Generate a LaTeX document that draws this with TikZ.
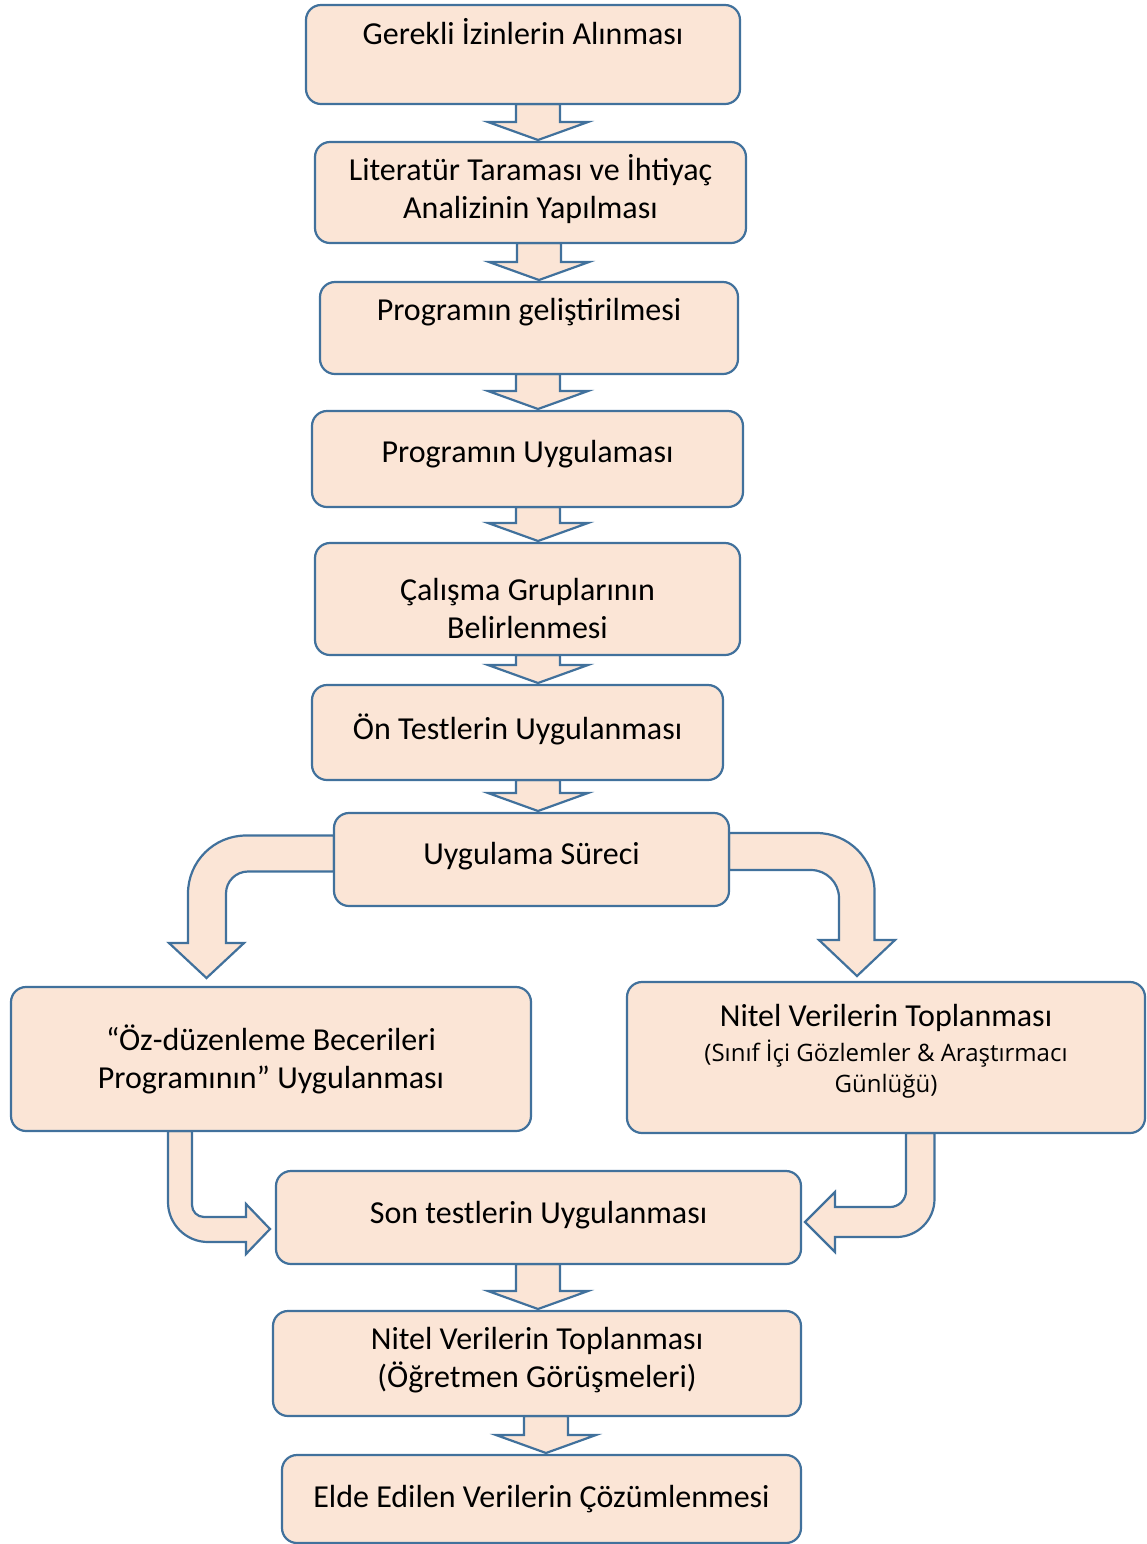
\documentclass[tikz,border=0pt]{standalone}
\usepackage{fontspec}
\setmainfont{Carlito}
\newfontfamily\notefont{Open Sans}
\newcommand\notesize{\notefont\fontsize{12}{15.5}\selectfont}
\newcommand\lowroom[1]{\rule[-#1]{0pt}{#1}}
\usetikzlibrary{calc,backgrounds}
\definecolor{boxfill}{HTML}{FBE5D6}
\definecolor{boxline}{HTML}{41719C}
\tikzset{
  box/.style={draw=boxline, fill=boxfill, line width=1.1pt, rounded corners=7.5pt, align=center,
    inner sep=2pt, outer sep=0pt, font=\fontsize{16}{19}\selectfont},
  blockarrow/.style={draw=boxline, fill=boxfill, line width=1.1pt, line join=miter}
}
\begin{document}
\begin{tikzpicture}[x=0.5pt,y=0.5pt]
    \useasboundingbox (0,0) rectangle (1147,-1544);

    \node[box, minimum width=217pt, minimum height=49.5pt] (izin) at (523,-54.5) {Gerekli İzinlerin Alınması\\[-2pt]\strut};
    \node[box, minimum width=215.5pt, minimum height=50.5pt] (literatur) at (530.5,-192.5) {Literatür Taraması ve İhtiyaç\\Analizinin Yapılması\lowroom{6.2pt}};
    \node[box, minimum width=209pt, minimum height=46pt] (gelistirme) at (529,-328) {Programın geliştirilmesi\\[-6pt]\strut};
    \node[box, minimum width=215.5pt, minimum height=48pt] (uygulama) at (527.5,-459) {Programın Uygulaması\lowroom{7.2pt}};
    \node[box, minimum width=212.5pt, minimum height=56pt] (gruplar) at (527.5,-599) {\rule{0pt}{20.5pt}Çalışma Gruplarının\\Belirlenmesi};
    \node[box, minimum width=205.5pt, minimum height=47.5pt] (ontest) at (517.5,-732.5) {Ön Testlerin Uygulanması\lowroom{6.2pt}};
    \node[box, minimum width=197.5pt, minimum height=46.5pt] (surec) at (531.5,-859.5) {Uygulama Süreci\lowroom{6.2pt}};
    \node[box, minimum width=260pt, minimum height=72pt] (ozduzen) at (271,-1059) {“Öz-düzenleme Becerileri\\Programının” Uygulanması};
    \node[box, minimum width=259pt, minimum height=75.5pt] (nitelA) at (886,-1057.5) {Nitel Verilerin Toplanması\\[-1.5pt]{\notesize (Sınıf İçi Gözlemler \& Araştırmacı}\\[-3.5pt]{\notesize Günlüğü)}\lowroom{9.5pt}};
    \node[box, minimum width=262.5pt, minimum height=46.5pt] (sontest) at (538.5,-1217.5) {Son testlerin Uygulanması\lowroom{5.2pt}};
    \node[box, minimum width=264pt, minimum height=52.5pt] (nitelB) at (537,-1363.5) {Nitel Verilerin Toplanması\\(Öğretmen Görüşmeleri)\lowroom{6.2pt}};
    \node[box, minimum width=259.5pt, minimum height=44pt] (cozum) at (541.5,-1499) {Elde Edilen Verilerin Çözümlenmesi};

    \coordinate (ltip) at ($(ozduzen.north west)+(195.5,9)$);
    \coordinate (rtip) at ($(nitelA.north)+(-29,6)$);
    \coordinate (bltip) at ($(sontest.west)+(-6,-11.5)$);
    \coordinate (brtip) at ($(sontest.east)+(4,-4.5)$);

    \begin{scope}[on background layer]
      \foreach \a/\b/\x in {izin/literatur/538,literatur/gelistirme/539,gelistirme/uygulama/538,uygulama/gruplar/538,gruplar/ontest/538,ontest/surec/538,sontest/nitelB/538,nitelB/cozum/546} {
        \draw[blockarrow] ($(\x,0 |- \a.south)+(-22,0)$) -- ($(\x,0 |- \b.north)+(-22,20)$) -- ++(-28,0)
          -- ($(\x,0 |- \b.north)+(0,2)$) -- ++(50,18) -- ++(-28,0) -- ($(\x,0 |- \a.south)+(22,0)$) -- cycle;
      }

      \draw[blockarrow] ($(surec.west)+(0,24)$) -- ($(ltip |- surec.west)+(39.5,24)$) arc[start angle=90, end angle=180, radius=29pt]
        -- ($(ltip)+(-18.5,35)$) -- ++(-19,0) -- (ltip) -- ++(37.5,35) -- ++(-18,0)
        -- ($(ltip |- surec.west)+(19.5,-34)$) arc[start angle=180, end angle=90, radius=11pt] -- ($(surec.west)+(0,-12)$) -- cycle;
      \draw[blockarrow] ($(surec.east)+(0,26.5)$) -- ($(rtip |- surec.east)+(-40.5,26.5)$) arc[start angle=90, end angle=0, radius=29pt]
        -- ($(rtip)+(17.5,36)$) -- ++(20.5,0) -- (rtip) -- ++(-38,36) -- ++(20,0)
        -- ($(rtip |- surec.east)+(-18,-38.5)$) arc[start angle=0, end angle=90, radius=14pt] -- ($(surec.east)+(0,-10.5)$) -- cycle;
      \draw[blockarrow] ($(ozduzen.south west)+(157,0)$) -- ($(ozduzen.south west |- bltip)+(157,27)$) arc[start angle=180, end angle=270, radius=20pt]
        -- ($(bltip)+(-24,-13)$) -- ++(0,-12) -- (bltip) -- ++(-24,25) -- ++(0,-13)
        -- ($(ozduzen.south west |- bltip)+(193,12)$) arc[start angle=270, end angle=180, radius=6pt] -- ($(ozduzen.south west)+(181,0)$) -- cycle;
      \draw[blockarrow] ($(nitelA.south)+(48.5,0)$) -- ($(nitelA.south |- brtip)+(48.5,23)$) arc[start angle=0, end angle=-90, radius=19pt]
        -- ($(brtip)+(30,-15)$) -- ++(0,-15) -- (brtip) -- ++(30,30) -- ++(0,-15)
        -- ($(nitelA.south |- brtip)+(4,15)$) arc[start angle=-90, end angle=0, radius=8pt] -- ($(nitelA.south)+(20,0)$) -- cycle;
    \end{scope}
  \end{tikzpicture}
\end{document}
